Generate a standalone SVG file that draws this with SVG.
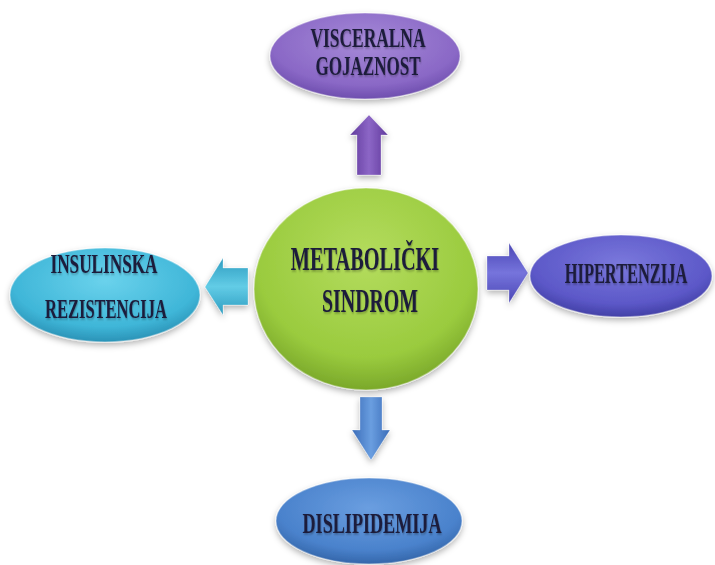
<svg xmlns="http://www.w3.org/2000/svg" width="715" height="565" viewBox="0 0 715 565">
<defs>
<radialGradient id="gPurple" cx="0.5" cy="0.35" r="0.65"><stop offset="0" stop-color="#a68ad8"/><stop offset="0.75" stop-color="#8a68c6"/><stop offset="1" stop-color="#6e4eae"/></radialGradient>
<radialGradient id="gCyan" cx="0.5" cy="0.35" r="0.65"><stop offset="0" stop-color="#6ad2ec"/><stop offset="0.75" stop-color="#3fb6d8"/><stop offset="1" stop-color="#2a92b6"/></radialGradient>
<radialGradient id="gGreen" cx="0.5" cy="0.35" r="0.65"><stop offset="0" stop-color="#b4dc5e"/><stop offset="0.75" stop-color="#9acb3e"/><stop offset="1" stop-color="#7aa82a"/></radialGradient>
<radialGradient id="gViolet" cx="0.5" cy="0.35" r="0.65"><stop offset="0" stop-color="#7a78dc"/><stop offset="0.75" stop-color="#5c58c8"/><stop offset="1" stop-color="#4240a6"/></radialGradient>
<radialGradient id="gBlue" cx="0.5" cy="0.35" r="0.65"><stop offset="0" stop-color="#6a9ee0"/><stop offset="0.75" stop-color="#4a82cc"/><stop offset="1" stop-color="#3466aa"/></radialGradient>
<linearGradient id="aPurple" x1="0" y1="0" x2="1" y2="0"><stop offset="0" stop-color="#603a9c"/><stop offset="0.5" stop-color="#8c66c6"/><stop offset="1" stop-color="#603a9c"/></linearGradient>
<linearGradient id="aCyan" x1="0" y1="0" x2="0" y2="1"><stop offset="0" stop-color="#2e9cc0"/><stop offset="0.5" stop-color="#62cce6"/><stop offset="1" stop-color="#2e9cc0"/></linearGradient>
<linearGradient id="aViolet" x1="0" y1="0" x2="0" y2="1"><stop offset="0" stop-color="#4a46b4"/><stop offset="0.5" stop-color="#7674dc"/><stop offset="1" stop-color="#4a46b4"/></linearGradient>
<linearGradient id="aBlue" x1="0" y1="0" x2="1" y2="0"><stop offset="0" stop-color="#3a6cb8"/><stop offset="0.5" stop-color="#6a9ee0"/><stop offset="1" stop-color="#3a6cb8"/></linearGradient>
<filter id="sh" x="-20%" y="-20%" width="140%" height="150%"><feDropShadow dx="0" dy="3" stdDeviation="3" flood-color="#000" flood-opacity="0.3"/></filter>
<filter id="tsh" x="-10%" y="-20%" width="120%" height="150%"><feDropShadow dx="1" dy="1.5" stdDeviation="1" flood-color="#000" flood-opacity="0.3"/></filter>
</defs>
<style>
.node ellipse{stroke:#ffffff;stroke-opacity:0.35;stroke-width:1.5;filter:url(#sh)}
.lbl{font-family:"Liberation Serif","DejaVu Serif",serif;font-weight:bold;fill:#1c1c3a;text-anchor:middle;filter:url(#tsh)}
.o2{font-size:27px}
.o1{font-size:29px}
.c{font-size:34px}
#connectors polygon{filter:url(#sh);stroke:#ffffff;stroke-opacity:0.3;stroke-width:1}
</style>
<rect width="715" height="565" fill="#ffffff"/>
<g id="connectors">
<polygon points="369,115 388,135 381,135 381,175 357,175 357,135 350,135" fill="url(#aPurple)"/>
<polygon points="205,287 223,258 223,268 248,268 248,305 223,305 223,315" fill="url(#aCyan)"/>
<polygon points="528,273 509,243 509,256 487,256 487,290 509,290 509,303" fill="url(#aViolet)"/>
<polygon points="371,460 390,430 382,430 382,397 360,397 360,430 352,430" fill="url(#aBlue)"/>
</g>
<g id="visceralna" class="node">
<ellipse cx="365" cy="56" rx="95" ry="43" fill="url(#gPurple)"/>
<text class="lbl o2" transform="translate(368,47) scale(0.644,1)">VISCERALNA</text>
<text class="lbl o2" transform="translate(368,75) scale(0.631,1)">GOJAZNOST</text>
</g>
<g id="insulinska" class="node">
<ellipse cx="105" cy="295" rx="95" ry="47" fill="url(#gCyan)"/>
<text class="lbl o2" transform="translate(104,273) scale(0.637,1)">INSULINSKA</text>
<text class="lbl o2" transform="translate(106,318) scale(0.611,1)">REZISTENCIJA</text>
</g>
<g id="metabolicki" class="node">
<ellipse cx="366" cy="289" rx="112" ry="101" fill="url(#gGreen)"/>
<text class="lbl c" transform="translate(365,270) scale(0.597,1)">METABOLIČKI</text>
<text class="lbl c" transform="translate(370,312) scale(0.584,1)">SINDROM</text>
</g>
<g id="hipertenzija" class="node">
<ellipse cx="621" cy="276" rx="91" ry="41" fill="url(#gViolet)"/>
<text class="lbl o1" transform="translate(626,283) scale(0.566,1)">HIPERTENZIJA</text>
</g>
<g id="dislipidemija" class="node">
<ellipse cx="369" cy="521" rx="93" ry="43" fill="url(#gBlue)"/>
<text class="lbl o1" transform="translate(372,533) scale(0.625,1)">DISLIPIDEMIJA</text>
</g>
</svg>
